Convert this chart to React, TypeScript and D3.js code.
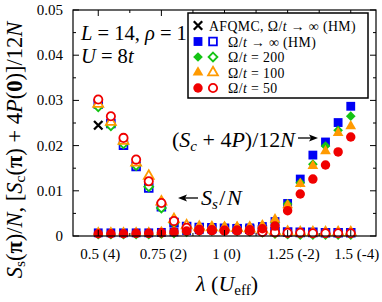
import React from 'react';
import * as d3 from 'd3';

// lambda values (U_eff in the tick labels)
const lambda = [0.5, 0.55, 0.6, 0.65, 0.7, 0.75, 0.8, 0.85, 0.9, 0.95, 1.0, 1.05, 1.1, 1.15, 1.2, 1.25, 1.3, 1.35, 1.4, 1.45, 1.5];

// S_s/N (open symbols)
const ssHM = [0.0292, 0.0249, 0.0201, 0.0154, 0.0106, 0.0065, 0.0030, 0.0021, 0.0019, 0.0018, 0.0017, 0.0016, 0.0015, 0.0013, 0.0010, 0.0009, 0.0008, 0.0008, 0.0007, 0.0007, 0.0007];
const ssW200 = [0.0286, 0.0244, 0.0204, 0.0156, 0.0109, 0.0062, 0.0029, 0.0018, 0.0015, 0.0014, 0.0013, 0.0012, 0.0011, 0.0009, 0.0006, 0.0005, 0.0004, 0.0004, 0.0004, 0.0004, 0.0004];
const ssW100 = [0.0292, 0.0252, 0.0210, 0.0162, 0.0133, 0.0076, 0.0037, 0.0023, 0.0020, 0.0019, 0.0018, 0.0017, 0.0016, 0.0014, 0.0010, 0.0009, 0.0008, 0.0008, 0.0008, 0.0008, 0.0008];
const ssW50 = [0.0302, 0.0265, 0.0217, 0.0169, 0.0121, 0.0073, 0.0033, 0.0018, 0.0014, 0.0013, 0.0012, 0.0012, 0.0011, 0.0009, 0.0008, 0.0007, 0.0007, 0.0006, 0.0006, 0.0006, 0.0006];

// (S_c + 4P)/12N (filled symbols)
const scHM = [0.0007, 0.0007, 0.0007, 0.0007, 0.0007, 0.0008, 0.0009, 0.0012, 0.0014, 0.0015, 0.0016, 0.0017, 0.0018, 0.0021, 0.0032, 0.0072, 0.0126, 0.0179, 0.0208, 0.0251, 0.0287];
const scW200 = [0.0003, 0.0003, 0.0003, 0.0003, 0.0003, 0.0004, 0.0005, 0.0008, 0.0010, 0.0011, 0.0012, 0.0013, 0.0014, 0.0017, 0.0030, 0.0071, 0.0118, 0.0159, 0.0199, 0.0234, 0.0265];
const scW100 = [0.0008, 0.0008, 0.0008, 0.0008, 0.0008, 0.0009, 0.0011, 0.0015, 0.0017, 0.0018, 0.0019, 0.0020, 0.0021, 0.0024, 0.0037, 0.0068, 0.0115, 0.0155, 0.0188, 0.0228, 0.0243];
const scW50 = [0.0005, 0.0005, 0.0005, 0.0006, 0.0006, 0.0007, 0.0009, 0.0011, 0.0012, 0.0012, 0.0012, 0.0013, 0.0014, 0.0016, 0.0022, 0.0056, 0.0093, 0.0126, 0.0157, 0.0186, 0.0219];

// AFQMC point
const afqmcLambda = [0.5];
const afqmcSs = [0.0245];

const yTicks = [0, 0.01, 0.02, 0.03, 0.04, 0.05];
const yTickLabels = ['0', '0.01', '0.02', '0.03', '0.04', '0.05'];
const yMinorTicks = [0.005, 0.015, 0.025, 0.035, 0.045];
const xTicks = [0.5, 0.75, 1, 1.25, 1.5];
const xTickLabels = ['0.5 (4)', '0.75 (2)', '1 (0)', '1.25 (-2)', '1.5 (-4)'];
const xMinorTicks = [0.625, 0.875, 1.125, 1.375];

const W = 382;
const H = 302;
const margin = { top: 10, right: 6, bottom: 66, left: 73 };
const font = '"Liberation Serif", "DejaVu Serif", serif';

const BLUE = '#0000f5';
const GREEN = '#14c414';
const ORANGE = '#ff9a00';
const RED = '#f00000';

const series = [
  { color: BLUE, symbol: d3.symbolSquare, size: 78, openSize: 60, open: ssHM, filled: scHM },
  { color: GREEN, symbol: (d3 as any).symbolDiamond2 || d3.symbolDiamond, size: 60, openSize: 50, open: ssW200, filled: scW200 },
  { color: ORANGE, symbol: d3.symbolTriangle, size: 50, openSize: 42, open: ssW100, filled: scW100 },
  { color: RED, symbol: d3.symbolCircle, size: 70, openSize: 54, open: ssW50, filled: scW50 },
];

const timesSymbol = (d3 as any).symbolTimes || (d3 as any).symbolX;

export default function App() {
  const x = d3.scaleLinear().domain([0.4, 1.6]).range([margin.left, W - margin.right]);
  const y = d3.scaleLinear().domain([0, 0.05]).range([H - margin.bottom, margin.top]);
  const [x0, x1] = x.range();
  const [yb, yt] = y.range();

  const sym = (s: any, size: number) => d3.symbol().type(s).size(size)() || '';

  const omegaLabel = (rest: string) => (
    <>
      Ω/<tspan fontStyle="italic">t</tspan>{rest}
    </>
  );

  const legendY = [25.5, 41.5, 57, 72.5, 88];
  const legendLabels = [' → ∞ (HM)', ' = 200', ' = 100', ' = 50'];

  return (
    <svg width={W} height={H} style={{ position: 'absolute', left: 0, top: 0 }} fontFamily={font}>
      <rect width={W} height={H} fill="#fff" />

      {/* AFQMC */}
      {afqmcLambda.map((l, i) => (
        <path key={'af' + i} d={sym(timesSymbol, 48)} transform={`translate(${x(l)},${y(afqmcSs[i])})`}
          fill="none" stroke="#000" strokeWidth={2.3} />
      ))}

      {/* data */}
      {series.map((s, si) => (
        <g key={si}>
          {lambda.map((l, i) => (
            <path key={'o' + i} d={sym(s.symbol, s.openSize)} transform={`translate(${x(l)},${y(s.open[i])})`}
              fill="#fff" stroke={s.color} strokeWidth={1.8} />
          ))}
          {lambda.map((l, i) => (
            <path key={'f' + i} d={sym(s.symbol, s.size)} transform={`translate(${x(l)},${y(s.filled[i])})`}
              fill={s.color} />
          ))}
        </g>
      ))}

      {/* frame and ticks */}
      <rect x={x0} y={yt} width={x1 - x0} height={yb - yt} fill="none" stroke="#000" strokeWidth={1.2} />
      {xTicks.map((t) => (
        <g key={'xt' + t} stroke="#000" strokeWidth={1}>
          <line x1={x(t)} x2={x(t)} y1={yb} y2={yb - 6} />
          <line x1={x(t)} x2={x(t)} y1={yt} y2={yt + 6} />
        </g>
      ))}
      {xMinorTicks.map((t) => (
        <g key={'xm' + t} stroke="#000" strokeWidth={1}>
          <line x1={x(t)} x2={x(t)} y1={yb} y2={yb - 3} />
          <line x1={x(t)} x2={x(t)} y1={yt} y2={yt + 3} />
        </g>
      ))}
      {yTicks.map((t) => (
        <g key={'yt' + t} stroke="#000" strokeWidth={1}>
          <line x1={x0} x2={x0 + 6} y1={y(t)} y2={y(t)} />
          <line x1={x1} x2={x1 - 6} y1={y(t)} y2={y(t)} />
        </g>
      ))}
      {yMinorTicks.map((t) => (
        <g key={'ym' + t} stroke="#000" strokeWidth={1}>
          <line x1={x0} x2={x0 + 3} y1={y(t)} y2={y(t)} />
          <line x1={x1} x2={x1 - 3} y1={y(t)} y2={y(t)} />
        </g>
      ))}

      {/* tick labels */}
      {yTicks.map((t, i) => (
        <text key={'yl' + t} x={x0 - 10} y={y(t) + 5} textAnchor="end" fontSize={15}>{yTickLabels[i]}</text>
      ))}
      {xTicks.map((t, i) => (
        <text key={'xl' + t} x={x(t) + (i >= 3 ? 6 : 2)} y={259} textAnchor="middle" fontSize={15}>{xTickLabels[i]}</text>
      ))}

      {/* axis titles */}
      <text x={227} y={291} textAnchor="middle" fontSize={22}>
        <tspan fontStyle="italic">λ</tspan> (<tspan fontStyle="italic">U</tspan><tspan fontSize={15} dy={4}>eff</tspan><tspan dy={-4}>)</tspan>
      </text>
      <text transform="translate(21.5,150) rotate(-90)" textAnchor="middle" fontSize={22.5}>
        <tspan fontStyle="italic">S</tspan><tspan fontSize={15.5} dy={3.5}>s</tspan><tspan dy={-3.5}>(</tspan><tspan fontWeight="bold">π</tspan>)/<tspan fontStyle="italic">N</tspan>,  [<tspan fontStyle="italic">S</tspan><tspan fontSize={15.5} dy={3.5}>c</tspan><tspan dy={-3.5}>(</tspan><tspan fontWeight="bold">π</tspan>) + 4<tspan fontStyle="italic">P</tspan>(<tspan fontWeight="bold">0</tspan>)]/12<tspan fontStyle="italic">N</tspan>
      </text>

      {/* annotations */}
      <text x={81} y={40} fontSize={20.5}>
        <tspan fontStyle="italic">L</tspan> = 14, <tspan fontStyle="italic">ρ</tspan> = 1
      </text>
      <text x={81} y={63} fontSize={20.5}>
        <tspan fontStyle="italic">U</tspan> = 8<tspan fontStyle="italic">t</tspan>
      </text>
      <text x={295} y={147} fontSize={22} textAnchor="end">
        (<tspan fontStyle="italic">S</tspan><tspan fontStyle="italic" fontSize={15} dy={4}>c</tspan><tspan dy={-4}> + 4</tspan><tspan fontStyle="italic">P</tspan>)/12<tspan fontStyle="italic">N</tspan>
      </text>
      <g stroke="#000" strokeWidth={1.3} fill="#000">
        <line x1={298} x2={312} y1={138} y2={138} />
        <path d="M318,138 L309,134.5 L311,138 L309,141.5 Z" stroke="none" />
        <line x1={184} x2={198} y1={198} y2={198} />
        <path d="M178,198 L187,194.5 L185,198 L187,201.5 Z" stroke="none" />
      </g>
      <text x={201} y={205} fontSize={22}>
        <tspan fontStyle="italic">S</tspan><tspan fontStyle="italic" fontSize={15} dy={4}>s</tspan><tspan dy={-4} dx={1.5}>/</tspan><tspan fontStyle="italic" dx={1.5}>N</tspan>
      </text>

      {/* legend */}
      <g>
        <rect x={188} y={13} width={180} height={85} fill="#fff" stroke="#000" strokeWidth={1.5} />
        <path d={sym(timesSymbol, 48)} transform={`translate(198,${legendY[0]})`} fill="none" stroke="#000" strokeWidth={2.3} />
        <text x={209} y={legendY[0] + 5} fontSize={13.8} letterSpacing={0.4}>AFQMC,  {omegaLabel(' → ∞ (HM)')}</text>
        {series.map((s, i) => (
          <g key={'lg' + i}>
            <path d={sym(s.symbol, s.size)} transform={`translate(198,${legendY[i + 1]})`} fill={s.color} />
            <path d={sym(s.symbol, s.openSize)} transform={`translate(213,${legendY[i + 1]})`} fill="#fff" stroke={s.color} strokeWidth={1.8} />
            <text x={228} y={legendY[i + 1] + 5} fontSize={13.8} letterSpacing={0.4}>{omegaLabel(legendLabels[i])}</text>
          </g>
        ))}
      </g>
    </svg>
  );
}
